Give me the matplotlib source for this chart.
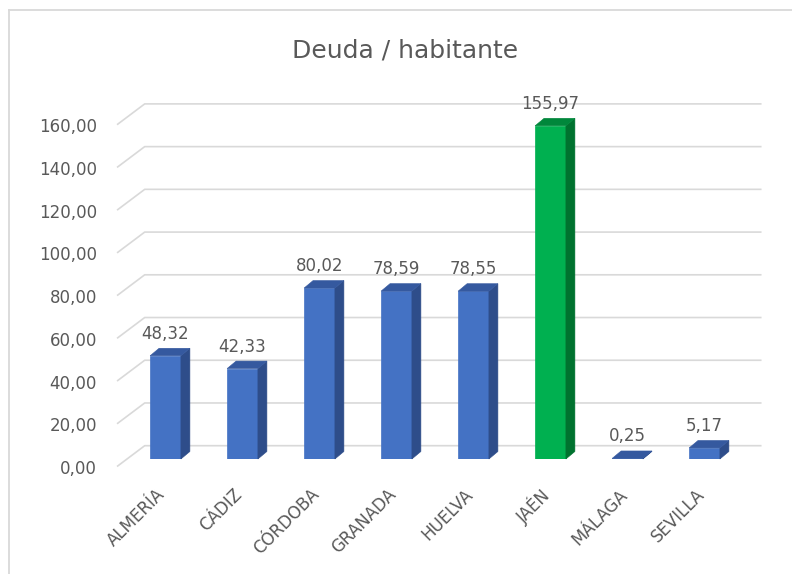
import matplotlib
matplotlib.use("Agg")
from matplotlib import pyplot as plt
from matplotlib.patches import Polygon
from matplotlib.lines import Line2D
from matplotlib.transforms import IdentityTransform

# Datos del gráfico
provincias = ["ALMERÍA", "CÁDIZ", "CÓRDOBA", "GRANADA", "HUELVA", "JAÉN", "MÁLAGA", "SEVILLA"]
deuda = [48.32, 42.33, 80.02, 78.59, 78.55, 155.97, 0.25, 5.17]
ticks_y = [0, 20, 40, 60, 80, 100, 120, 140, 160]
destacada = "JAÉN"
titulo = "Deuda / habitante"

texto_color = "#595959"
grid_color = "#d9d9d9"
colores = {
    "azul": ("#4472C4", "#2E4D8A", "#35599F"),
    "verde": ("#00B050", "#00722F", "#00873B"),
}

# desplazamientos en pixeles (efecto 3D)
prof_barra = (9, 7.5)
plano_fondo = (17.7, 13.3)
plano_frente = (-9.3, -7)

W, H = 792, 574
fig = plt.figure(figsize=(W / 100, H / 100), dpi=100)
ax = fig.add_axes([127 / W, 115 / H, 616 / W, 341.8 / H])
ax.set_xlim(-0.5, 7.5)
ax.set_ylim(0, 160)
ax.axis("off")


def px(x, y, d=(0, 0)):
    X, Y = ax.transData.transform((x, y))
    return (X + d[0], Y + d[1])


# borde del área del gráfico
fig.add_artist(Line2D([9, 9], [-5, H - 10], color=grid_color, lw=1.3, transform=IdentityTransform()))
fig.add_artist(Line2D([9, W + 5], [H - 10, H - 10], color=grid_color, lw=1.3, transform=IdentityTransform()))

# líneas de división (pared del fondo)
for v in ticks_y:
    pts = [px(-0.5, v, plano_frente), px(-0.5, v, plano_fondo), px(7.5, v, plano_fondo)]
    ax.add_line(Line2D([p[0] for p in pts], [p[1] for p in pts], color=grid_color, lw=1.2,
                       transform=IdentityTransform(), clip_on=False, zorder=1))
    ax.annotate(f"{v:.2f}".replace(".", ","), xy=(-0.5, v), xytext=(-30, -15),
                textcoords="offset pixels", ha="right", va="baseline", fontsize=12,
                color=texto_color, annotation_clip=False)

# barras
w = 0.4
for i, (prov, val) in enumerate(zip(provincias, deuda)):
    frente, lado, tapa = colores["verde"] if prov == destacada else colores["azul"]
    ax.bar(i, val, width=w, color=frente, edgecolor=frente, lw=0.5, zorder=3)
    x0, x1 = i - w / 2, i + w / 2
    side = [px(x1, 0), px(x1, val), px(x1, val, prof_barra), px(x1, 0, prof_barra)]
    top = [px(x0, val), px(x1, val), px(x1, val, prof_barra), px(x0, val, prof_barra)]
    for poly, c in ((side, lado), (top, tapa)):
        ax.add_patch(Polygon(poly, closed=True, facecolor=c, edgecolor=c, lw=0.4,
                             transform=IdentityTransform(), clip_on=False, zorder=3))
    ax.annotate(f"{val:.2f}".replace(".", ","), xy=(i, val), xytext=(0, 17),
                textcoords="offset pixels", ha="center", va="baseline", fontsize=12,
                color=texto_color, annotation_clip=False)
    ax.annotate(prov, xy=(i, 0), xytext=(-3, -33), textcoords="offset pixels",
                rotation=45, rotation_mode="anchor", ha="right", va="center",
                fontsize=12, color=texto_color, annotation_clip=False)

fig.text(405.5 / W, 1 - 57.7 / H, titulo, ha="center", va="baseline", fontsize=18, color=texto_color)

fig.savefig("out.png", dpi=100)
